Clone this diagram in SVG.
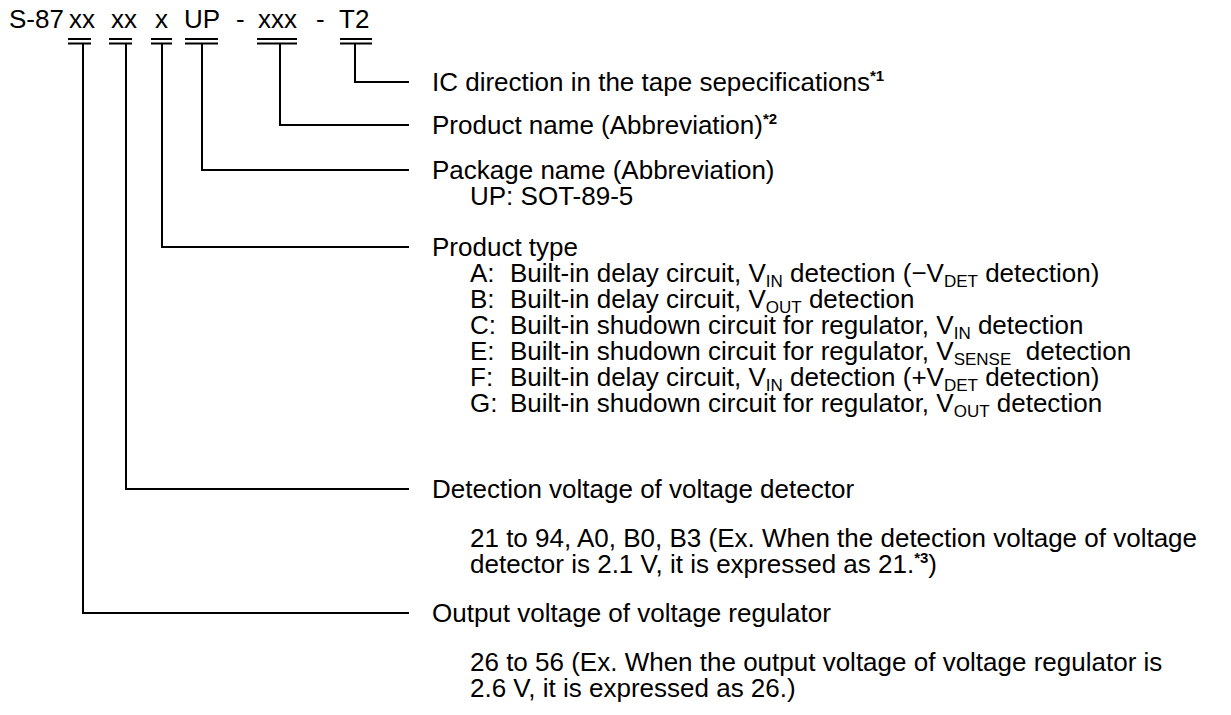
<svg xmlns="http://www.w3.org/2000/svg" width="1231" height="715" viewBox="0 0 1231 715">
<style>
.t{font-family:"Liberation Sans",Arial,sans-serif;font-size:26px;fill:#000}
.sub{font-size:17px}
.sup{font-size:15px;font-weight:bold}
.ln{fill:none;stroke:#000;stroke-width:2}
</style>
<rect width="1231" height="715" fill="#fff"/>
<g id="code">
<text class="t" x="9" y="28">S-87</text>
<text class="t" x="69" y="28">xx</text>
<text class="t" x="111" y="28">xx</text>
<text class="t" x="155" y="28">x</text>
<text class="t" x="184" y="28">UP</text>
<text class="t" x="236" y="28">-</text>
<text class="t" x="258" y="28">xxx</text>
<text class="t" x="316" y="28">-</text>
<text class="t" x="339" y="28">T2</text>
</g>
<g id="connectors" class="ln">
<path d="M340,39H372M340,43.5H372M355,43.5V82H409"/>
<path d="M257,39H297M257,43.5H297M280,43.5V125H409"/>
<path d="M185,39H218M185,43.5H218M202,43.5V170H409"/>
<path d="M151,39H172M151,43.5H172M162,43.5V247H409"/>
<path d="M109,39H132M109,43.5H132M126,43.5V489H409"/>
<path d="M68,39H91M68,43.5H91M83,43.5V613H409"/>
</g>
<g id="tape">
<text class="t" x="432" y="91">IC direction in the tape sepecifications<tspan class="sup" dy="-10">*1</tspan></text>
</g>
<g id="product-name">
<text class="t" x="432" y="134">Product name (Abbreviation)<tspan class="sup" dy="-10">*2</tspan></text>
</g>
<g id="package">
<text class="t" x="432" y="179">Package name (Abbreviation)</text>
<text class="t" x="470" y="205">UP: SOT-89-5</text>
</g>
<g id="product-type">
<text class="t" x="432" y="256">Product type</text>
<text class="t" x="470" y="282">A:<tspan x="510">Built-in delay circuit, V</tspan><tspan class="sub" dy="5">IN</tspan><tspan dy="-5"> detection (−V</tspan><tspan class="sub" dy="5">DET</tspan><tspan dy="-5"> detection)</tspan></text>
<text class="t" x="470" y="308">B:<tspan x="510">Built-in delay circuit, V</tspan><tspan class="sub" dy="5">OUT</tspan><tspan dy="-5"> detection</tspan></text>
<text class="t" x="470" y="334">C:<tspan x="510">Built-in shudown circuit for regulator, V</tspan><tspan class="sub" dy="5">IN</tspan><tspan dy="-5"> detection</tspan></text>
<text class="t" x="470" y="360" xml:space="preserve" style="white-space:pre">E:<tspan x="510">Built-in shudown circuit for regulator, V</tspan><tspan class="sub" dy="5">SENSE</tspan><tspan dy="-5">  detection</tspan></text>
<text class="t" x="470" y="386">F:<tspan x="510">Built-in delay circuit, V</tspan><tspan class="sub" dy="5">IN</tspan><tspan dy="-5"> detection (+V</tspan><tspan class="sub" dy="5">DET</tspan><tspan dy="-5"> detection)</tspan></text>
<text class="t" x="470" y="412">G:<tspan x="510">Built-in shudown circuit for regulator, V</tspan><tspan class="sub" dy="5">OUT</tspan><tspan dy="-5"> detection</tspan></text>
</g>
<g id="detection-voltage">
<text class="t" x="432" y="498">Detection voltage of voltage detector</text>
<text class="t" x="470" y="547">21 to 94, A0, B0, B3 (Ex. When the detection voltage of voltage</text>
<text class="t" x="470" y="573">detector is 2.1 V, it is expressed as 21.<tspan class="sup" dy="-10">*3</tspan><tspan dy="10">)</tspan></text>
</g>
<g id="output-voltage">
<text class="t" x="432" y="622">Output voltage of voltage regulator</text>
<text class="t" x="470" y="671">26 to 56 (Ex. When the output voltage of voltage regulator is</text>
<text class="t" x="470" y="697">2.6 V, it is expressed as 26.)</text>
</g>
</svg>
